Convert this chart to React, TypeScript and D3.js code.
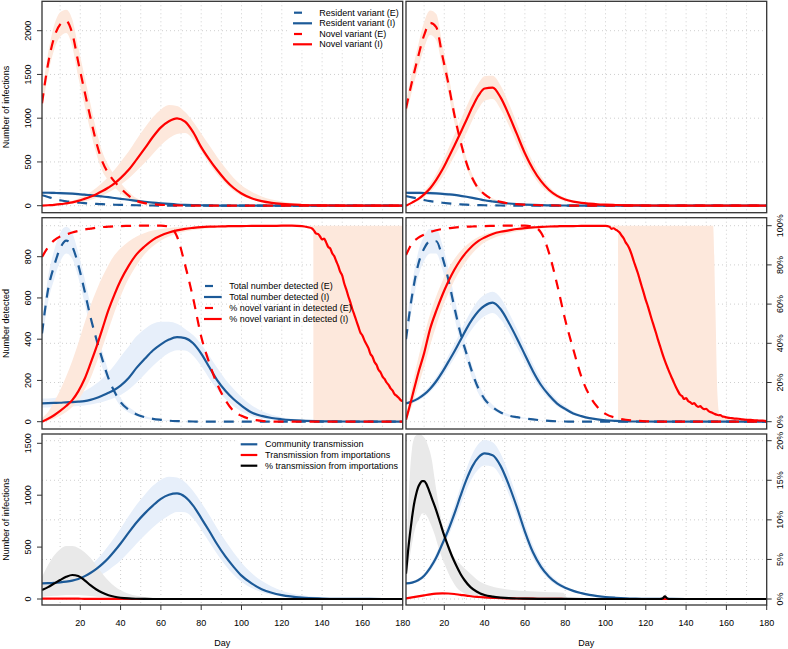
import React from "react";
import * as d3 from "d3";

const FONT = "'Liberation Sans', Arial, Helvetica, sans-serif";
const BLUE = "#1c5a98";
const RED = "#ff0000";
const BLACK = "#000000";
const PEACH = "#fde8dc";
const LBLUE = "#e7effa";
const GRAY = "#e9e9e9";

// ---------- shared day grid ----------
const DAYS = [1, 4, 7, 10, 13, 16, 19, 22, 25, 28, 31, 34, 37, 40, 44, 48, 52, 56, 60, 64, 68, 72, 76, 80, 84, 88, 92, 96, 100, 105, 110, 115, 120, 130, 140, 150, 160, 170, 180];
const X_TICKS = [20, 40, 60, 80, 100, 120, 140, 160, 180];
const X_GRID = [10, 20, 30, 40, 50, 60, 70, 80, 90, 100, 110, 120, 130, 140, 150, 160, 170];
const TOP_TICKS = [0, 500, 1000, 1500, 2000];
const MID_TICKS = [0, 200, 400, 600, 800];
const MID_PCT_TICKS = [0, 20, 40, 60, 80, 100];
const BOT_TICKS = [0, 500, 1000, 1500];
const BOT_PCT_TICKS = [0, 5, 10, 15, 20];

// ---------- top-left ----------
const TL_RE = [120, 100, 80, 62, 50, 42, 36, 30, 25, 21, 17, 14, 11, 9, 7, 5, 3, 2, 1, 1, 0, 0, 0, 0, 0, 0, 0, 0, 0, 0, 0, 0, 0, 0, 0, 0, 0, 0, 0];
const TL_RI = [148, 148, 146, 144, 141, 137, 132, 127, 120, 113, 105, 97, 88, 79, 68, 56, 45, 35, 27, 20, 14, 10, 7, 5, 3, 2, 1, 1, 0, 0, 0, 0, 0, 0, 0, 0, 0, 0, 0];
const TL_RI_HI = [170, 168, 165, 162, 158, 153, 147, 141, 133, 125, 116, 107, 97, 88, 76, 63, 51, 40, 31, 23, 17, 12, 8, 6, 4, 2, 1, 1, 0, 0, 0, 0, 0, 0, 0, 0, 0, 0, 0];
const TL_RI_LO = [128, 128, 127, 126, 124, 121, 117, 112, 106, 100, 93, 86, 78, 70, 60, 49, 39, 30, 23, 17, 12, 8, 6, 4, 2, 1, 0, 0, 0, 0, 0, 0, 0, 0, 0, 0, 0, 0, 0];
const TL_NE = [1170, 1620, 1920, 2070, 2110, 1970, 1640, 1320, 1010, 720, 500, 370, 275, 200, 115, 55, 30, 17, 10, 6, 4, 2, 1, 0, 0, 0, 0, 0, 0, 0, 0, 0, 0, 0, 0, 0, 0, 0, 0];
const TL_NE_HI = [1260, 1740, 2060, 2210, 2240, 2130, 1810, 1490, 1170, 860, 610, 460, 350, 260, 160, 85, 48, 28, 17, 10, 6, 3, 2, 1, 0, 0, 0, 0, 0, 0, 0, 0, 0, 0, 0, 0, 0, 0, 0];
const TL_NE_LO = [1080, 1500, 1780, 1930, 1975, 1820, 1470, 1160, 860, 590, 395, 290, 210, 145, 75, 30, 16, 8, 4, 2, 1, 0, 0, 0, 0, 0, 0, 0, 0, 0, 0, 0, 0, 0, 0, 0, 0, 0, 0];
const TL_NI = [0, 5, 10, 17, 27, 38, 55, 78, 103, 132, 167, 208, 255, 315, 410, 530, 655, 785, 895, 965, 998, 960, 840, 670, 530, 405, 295, 205, 140, 85, 52, 32, 20, 8, 3, 1, 0, 0, 0];
const TL_NI_HI = [0, 8, 15, 25, 40, 58, 82, 115, 155, 205, 265, 335, 410, 500, 620, 760, 890, 1010, 1100, 1150, 1140, 1070, 960, 825, 690, 555, 430, 320, 235, 160, 105, 70, 48, 20, 8, 3, 1, 0, 0];
const TL_NI_LO = [0, 3, 6, 10, 15, 22, 32, 46, 64, 88, 115, 150, 190, 240, 310, 400, 490, 590, 690, 770, 820, 830, 760, 625, 480, 355, 255, 172, 115, 70, 42, 26, 15, 5, 2, 0, 0, 0, 0];

// ---------- top-right ----------
const TR_RE = [110, 95, 80, 65, 52, 42, 34, 27, 21, 16, 12, 9, 7, 5, 3, 2, 1, 1, 0, 0, 0, 0, 0, 0, 0, 0, 0, 0, 0, 0, 0, 0, 0, 0, 0, 0, 0, 0, 0];
const TR_RI = [148, 147, 146, 145, 143, 140, 136, 130, 123, 113, 102, 90, 77, 62, 48, 35, 25, 18, 13, 9, 6, 4, 3, 2, 1, 1, 0, 0, 0, 0, 0, 0, 0, 0, 0, 0, 0, 0, 0];
const TR_RI_HI = [166, 165, 164, 163, 161, 158, 153, 147, 139, 128, 116, 103, 89, 73, 57, 42, 30, 22, 16, 11, 8, 5, 4, 3, 2, 1, 0, 0, 0, 0, 0, 0, 0, 0, 0, 0, 0, 0, 0];
const TR_RI_LO = [130, 129, 128, 127, 125, 122, 119, 113, 107, 98, 88, 77, 65, 51, 39, 28, 20, 14, 10, 7, 4, 3, 2, 1, 0, 0, 0, 0, 0, 0, 0, 0, 0, 0, 0, 0, 0, 0, 0];
const TR_NE = [1110, 1420, 1700, 1950, 2090, 2040, 1720, 1398, 1040, 740, 490, 310, 195, 130, 72, 44, 25, 17, 12, 8, 5, 3, 2, 1, 0, 0, 0, 0, 0, 0, 0, 0, 0, 0, 0, 0, 0, 0, 0];
const TR_NE_HI = [1190, 1530, 1830, 2100, 2230, 2190, 1850, 1510, 1130, 810, 545, 350, 225, 150, 85, 52, 30, 20, 14, 9, 6, 4, 2, 1, 0, 0, 0, 0, 0, 0, 0, 0, 0, 0, 0, 0, 0, 0, 0];
const TR_NE_LO = [1030, 1310, 1570, 1800, 1950, 1890, 1590, 1290, 950, 670, 440, 275, 170, 112, 60, 37, 20, 14, 10, 7, 4, 2, 1, 0, 0, 0, 0, 0, 0, 0, 0, 0, 0, 0, 0, 0, 0, 0, 0];
const TR_NI = [0, 35, 75, 130, 200, 295, 410, 545, 685, 830, 980, 1130, 1260, 1340, 1350, 1235, 1040, 820, 600, 420, 280, 180, 112, 70, 46, 32, 23, 16, 12, 8, 5, 3, 2, 1, 0, 0, 0, 0, 0];
const TR_NI_HI = [0, 45, 95, 165, 250, 365, 500, 650, 810, 970, 1130, 1280, 1400, 1480, 1485, 1370, 1170, 940, 700, 500, 340, 220, 140, 90, 60, 42, 30, 21, 15, 10, 7, 4, 3, 1, 0, 0, 0, 0, 0];
const TR_NI_LO = [0, 25, 55, 100, 155, 230, 325, 440, 565, 695, 830, 980, 1110, 1200, 1220, 1100, 920, 710, 510, 350, 225, 145, 85, 52, 34, 24, 17, 12, 9, 6, 4, 2, 1, 0, 0, 0, 0, 0, 0];

// ---------- middle-left ----------
const ML_TE = [428, 640, 755, 840, 878, 850, 760, 640, 510, 400, 300, 210, 145, 95, 58, 35, 22, 14, 9, 5, 3, 2, 1, 0, 0, 0, 0, 0, 0, 0, 0, 0, 0, 0, 0, 0, 0, 0, 0];
const ML_TE_HI = [470, 700, 830, 915, 945, 915, 820, 700, 570, 450, 340, 245, 170, 115, 72, 45, 28, 18, 11, 7, 4, 2, 1, 0, 0, 0, 0, 0, 0, 0, 0, 0, 0, 0, 0, 0, 0, 0, 0];
const ML_TE_LO = [385, 580, 690, 775, 815, 790, 700, 580, 455, 350, 260, 175, 120, 75, 45, 27, 16, 10, 6, 3, 2, 1, 0, 0, 0, 0, 0, 0, 0, 0, 0, 0, 0, 0, 0, 0, 0, 0, 0];
const ML_TI = [89, 90, 91, 92, 94, 95, 97, 100, 106, 115, 127, 140, 155, 175, 212, 262, 305, 345, 375, 398, 410, 405, 380, 330, 265, 200, 150, 110, 78, 45, 28, 18, 12, 5, 2, 1, 0, 0, 0];
const ML_TI_HI = [112, 113, 115, 118, 122, 128, 135, 148, 165, 185, 210, 240, 275, 315, 365, 415, 450, 475, 485, 485, 475, 450, 420, 375, 320, 260, 205, 160, 120, 80, 52, 34, 22, 10, 4, 2, 1, 0, 0];
const ML_TI_LO = [68, 69, 70, 71, 72, 74, 76, 79, 83, 89, 96, 105, 116, 130, 155, 190, 230, 270, 305, 333, 347, 345, 320, 270, 210, 155, 110, 75, 50, 28, 16, 10, 6, 2, 1, 0, 0, 0, 0];
const ML_PE = [84, 89, 92.5, 94.5, 95.5, 96.5, 97.3, 98, 98.5, 99, 99.3, 99.5, 99.7, 99.8, 99.9, 100, 100, 100, 100, 99.5, 94.5, 80, 63, 43.5, 30, 19, 11, 5.5, 3, 1.2, 0.4, 0.1, 0, 0, 0, 0, 0, 0, 0];
const ML_PI_DAYS = [1, 4, 7, 10, 13, 16, 19, 22, 25, 28, 31, 34, 37, 40, 44, 48, 52, 56, 60, 64, 68, 72, 76, 80, 84, 88, 92, 96, 100, 105, 110, 115, 120, 125, 130, 133].concat(d3.range(135, 181));
const ML_PI = [0, 1.5, 3.3, 5.5, 8, 11, 15.5, 21.5, 29.5, 38, 47.5, 57, 65, 72, 79.5, 85.5, 89.5, 92.8, 95, 96.5, 97.6, 98.4, 98.9, 99.3, 99.5, 99.6, 99.7, 99.8, 99.8, 99.9, 99.9, 99.9, 100, 100, 99.8, 99.2,
  98.6, 97.5, 96, 95.8, 94.5, 93, 93.4, 91.5, 89.2, 88.4, 86, 84.5, 82, 79.5, 76.5, 74.5, 70.5, 67.5, 64, 61, 57.5, 54.5, 51.5, 48.5, 45.5, 44, 41.5, 39.5, 37.5, 34.5, 33.2, 30.5, 29, 26.5, 25.2, 23, 21.8, 20, 18.8, 17, 15.8, 14, 13.2, 12.2, 11, 10.5];
const ML_PB_DAYS = [1, 4, 7, 10, 13, 16, 19, 22, 25, 28, 31, 34, 37, 40, 44, 48, 52, 56, 60, 64, 68, 72, 76, 80, 84, 88, 92, 96, 100, 105, 110, 115, 120, 125, 130, 133, 135.6, 135.9, 140, 150, 160, 170, 180];
const ML_PI_HI = [2, 5, 10, 16, 23, 31, 40, 50, 59, 67, 74, 80, 85, 88.5, 92, 94.5, 96.3, 97.5, 98.3, 98.8, 99.2, 99.4, 99.6, 99.7, 99.8, 99.8, 99.9, 99.9, 99.9, 100, 100, 100, 100, 100, 100, 100, 100, 100, 100, 100, 100, 100, 100];
const ML_PI_LO = [0, 0.5, 1.5, 3, 5, 7.5, 11, 16, 22, 30, 38, 47, 56, 64, 73, 80, 85.5, 89.5, 92.5, 94.5, 96, 97, 97.8, 98.3, 98.7, 99, 99.2, 99.4, 99.5, 99.6, 99.7, 99.7, 99.8, 99.8, 99.5, 99, 98, 0, 0, 0, 0, 0, 0];

// ---------- middle-right ----------
const MR_TE = [400, 610, 760, 840, 875, 875, 800, 690, 555, 430, 330, 235, 160, 110, 70, 45, 30, 22, 16, 11, 7, 4, 2, 1, 0, 0, 0, 0, 0, 0, 0, 0, 0, 0, 0, 0, 0, 0, 0];
const MR_TE_HI = [450, 670, 820, 900, 935, 935, 860, 745, 605, 475, 365, 265, 185, 128, 82, 53, 36, 26, 19, 13, 8, 5, 3, 1, 0, 0, 0, 0, 0, 0, 0, 0, 0, 0, 0, 0, 0, 0, 0];
const MR_TE_LO = [355, 550, 700, 780, 815, 815, 740, 635, 505, 385, 295, 205, 135, 92, 58, 37, 24, 18, 13, 9, 6, 3, 1, 0, 0, 0, 0, 0, 0, 0, 0, 0, 0, 0, 0, 0, 0, 0, 0];
const MR_TI = [89, 98, 112, 132, 160, 196, 240, 290, 340, 395, 450, 498, 537, 562, 577, 545, 480, 405, 325, 245, 178, 128, 88, 62, 40, 27, 17, 11, 7, 4, 2, 1, 1, 0, 0, 0, 0, 0, 0];
const MR_TI_HI = [95, 106, 122, 145, 177, 217, 265, 320, 375, 435, 495, 548, 590, 615, 630, 600, 530, 450, 365, 280, 207, 150, 105, 75, 50, 34, 22, 14, 9, 5, 3, 2, 1, 0, 0, 0, 0, 0, 0];
const MR_TI_LO = [83, 90, 102, 120, 145, 177, 216, 262, 308, 358, 408, 452, 488, 512, 527, 495, 435, 362, 290, 215, 155, 110, 75, 52, 33, 22, 14, 9, 6, 3, 2, 1, 0, 0, 0, 0, 0, 0, 0];
const MR_PE = [85, 91, 93.8, 95.5, 96.8, 97.7, 98.3, 98.7, 99, 99.3, 99.5, 99.6, 99.7, 99.8, 99.9, 100, 100, 100, 100, 99.5, 96.5, 86, 70, 52, 37, 23, 13.5, 7.5, 4, 2, 1, 0.5, 0.2, 0, 0, 0, 0, 0, 0];
const MR_PI_DAYS = [1, 4, 7, 10, 13, 16, 19, 22, 25, 28, 31, 34, 37, 40, 44, 48, 52, 56, 60, 64, 68, 72, 76, 80, 84, 88, 92, 96, 100].concat(d3.range(102, 161), [162, 164, 166, 168, 170, 172, 174, 176, 178, 180]);
const MR_PI = [1, 12.5, 24.5, 35, 47.5, 56.5, 64.5, 71.5, 77.5, 82.5, 86.5, 89.8, 92.3, 94, 95.8, 96.9, 97.6, 98.3, 98.8, 99.1, 99.4, 99.6, 99.7, 99.8, 99.8, 99.9, 99.9, 99.9, 99.9,
  99.5, 98.4, 98.7, 98, 97.4, 96.5, 95, 93.6, 91.5, 90, 88, 85.2, 82, 79, 76, 72.5, 69, 65.6, 62, 59, 55.5, 52, 48.8, 45.5, 42, 38.8, 35.5, 32.4, 29.6, 27, 24.5, 22.2, 19.8, 17.6, 15.6, 13.8, 13.1, 11.6, 12, 10.6, 10, 9.1, 9.5, 8.3, 7.6, 7.9, 7, 6.4, 6.6, 5.6, 4.9, 4.6, 4, 3.6, 3.3, 3.4, 2.7, 2.5, 2.2,
  1.9, 1.6, 1.5, 1.2, 1.0, 0.9, 0.7, 0.6, 0.5, 0.35];
const MR_PB_DAYS = [1, 4, 7, 10, 13, 16, 19, 22, 25, 28, 31, 34, 37, 40, 44, 48, 52, 56, 60, 64, 68, 72, 76, 80, 84, 88, 92, 96, 100, 104, 106.2, 106.4, 120, 140, 153.4, 154.5, 155.5, 156.5, 160, 170, 180];
const MR_PI_HI = [3, 18, 32, 44, 55, 64, 71.5, 78, 83, 87, 90, 92.5, 94.3, 95.7, 96.8, 97.6, 98.2, 98.7, 99, 99.3, 99.5, 99.7, 99.8, 99.9, 100, 100, 100, 100, 100, 100, 100, 100, 100, 100, 100, 60, 15, 4, 2.4, 1, 0.4];
const MR_PI_LO = [0.5, 8, 18, 28, 39, 49, 58, 65.5, 72, 77.5, 82, 86, 89, 91.5, 93.5, 95, 96.2, 97.1, 97.8, 98.3, 98.7, 99, 99.2, 99.4, 99.5, 99.6, 99.7, 99.7, 99.7, 99, 97.5, 0, 0, 0, 0, 0, 0, 0, 0, 0, 0];

// ---------- bottom-left ----------
const BL_CT = [150, 152, 155, 160, 167, 177, 193, 218, 250, 290, 338, 395, 462, 535, 640, 740, 825, 900, 965, 1005, 1018, 985, 900, 780, 655, 525, 410, 312, 225, 150, 95, 60, 37, 13, 5, 2, 1, 0, 0];
const BL_CT_HI = [165, 170, 175, 185, 198, 215, 240, 275, 320, 375, 440, 515, 595, 680, 800, 910, 1005, 1090, 1150, 1178, 1170, 1125, 1040, 930, 810, 680, 560, 450, 350, 250, 175, 120, 80, 35, 14, 6, 2, 1, 0];
const BL_CT_LO = [135, 136, 138, 141, 145, 151, 160, 173, 190, 213, 242, 278, 322, 372, 450, 535, 615, 690, 755, 805, 838, 835, 775, 670, 550, 430, 325, 235, 165, 105, 65, 40, 25, 8, 3, 1, 0, 0, 0];
const BL_TI = [3, 3, 3, 3, 3, 3, 3, 2, 2, 2, 1, 1, 1, 1, 0, 0, 0, 0, 0, 0, 0, 0, 0, 0, 0, 0, 0, 0, 0, 0, 0, 0, 0, 0, 0, 0, 0, 0, 0];
const BL_PCT = [1.14, 1.5, 1.95, 2.4, 2.8, 3.03, 2.9, 2.4, 1.75, 1.2, 0.78, 0.48, 0.28, 0.16, 0.07, 0.03, 0.01, 0, 0, 0, 0, 0, 0, 0, 0, 0, 0, 0, 0, 0, 0, 0, 0, 0, 0, 0, 0, 0, 0];
const BL_PCT_HI = [2.8, 4.3, 5.5, 6.3, 6.7, 6.7, 6.45, 5.95, 5.2, 4.2, 3.2, 2.3, 1.6, 1.1, 0.65, 0.4, 0.25, 0.15, 0.08, 0.03, 0, 0, 0, 0, 0, 0, 0, 0, 0, 0, 0, 0, 0, 0, 0, 0, 0, 0, 0];
const BL_PCT_LO = [0.3, 0.35, 0.4, 0.45, 0.5, 0.5, 0.5, 0.45, 0.38, 0.3, 0.22, 0.15, 0.1, 0.06, 0.03, 0.01, 0, 0, 0, 0, 0, 0, 0, 0, 0, 0, 0, 0, 0, 0, 0, 0, 0, 0, 0, 0, 0, 0, 0];

// ---------- bottom-right ----------
const BR_CT = [150, 158, 180, 225, 300, 400, 530, 665, 820, 990, 1150, 1280, 1365, 1402, 1385, 1280, 1100, 885, 650, 450, 310, 215, 150, 108, 78, 57, 40, 28, 19, 12, 7, 4, 2, 1, 0, 0, 0, 0, 0];
const BR_CT_HI = [160, 170, 195, 245, 330, 440, 580, 730, 900, 1080, 1255, 1400, 1495, 1532, 1510, 1400, 1210, 980, 730, 515, 360, 250, 175, 126, 92, 67, 48, 34, 23, 15, 9, 5, 3, 1, 0, 0, 0, 0, 0];
const BR_CT_LO = [140, 146, 165, 205, 272, 362, 480, 605, 745, 900, 1050, 1170, 1250, 1285, 1275, 1180, 1010, 800, 580, 395, 270, 185, 128, 92, 66, 48, 33, 23, 15, 10, 6, 3, 2, 0, 0, 0, 0, 0, 0];
const BR_TI = [6, 15, 25, 35, 45, 52, 55, 53, 48, 40, 33, 24, 19, 15, 11, 8, 6, 5, 4, 3, 2, 1, 1, 0, 0, 0, 0, 0, 0, 0, 0, 0, 0, 0, 0, 0, 0, 0, 0];
const BR_PCT_DAYS = [1, 2, 3, 4, 5, 6, 7, 8, 9, 10, 11, 12, 13, 14, 16, 18, 20, 22, 24, 26, 28, 30, 33, 36, 40, 44, 48, 52, 56, 60, 70, 80, 90, 100, 110, 120, 127, 128.5, 129.5, 130.5, 131.5, 133, 140, 150, 160, 170, 180];
const BR_PCT = [3.2, 6, 8.3, 10.3, 12, 13.2, 14.1, 14.6, 14.9, 14.9, 14.6, 14, 13.3, 12.6, 11.2, 9.6, 8, 6.6, 5.3, 4.2, 3.2, 2.4, 1.5, 0.95, 0.5, 0.3, 0.18, 0.1, 0.06, 0.04, 0.02, 0.01, 0, 0, 0, 0, 0, 0.1, 0.35, 0.1, 0, 0, 0, 0, 0, 0, 0];
const BR_PB_DAYS = [1, 2, 3, 4, 5, 6, 7, 8, 9, 10, 11, 12, 13, 14, 15, 16, 17, 18, 19, 20, 22, 24, 26, 28, 30, 33, 36, 40, 45, 50, 55, 60, 65, 70, 75, 79, 80, 81, 82, 90, 180];
const BR_PCT_HI = [5, 11, 16, 19, 20.3, 20.7, 20.8, 20.8, 20.7, 20.4, 20, 19.3, 18.5, 17.3, 15.5, 13.8, 12.2, 10.7, 9.5, 8.5, 6.9, 5.7, 4.9, 4.4, 3.9, 3.2, 2.5, 1.9, 1.5, 1.25, 1.1, 1.0, 0.95, 0.9, 0.85, 0.8, 0.5, 0.1, 0, 0, 0];
const BR_PCT_LO = [2.5, 4, 5.5, 7, 8.3, 9.3, 9.9, 10.4, 10.8, 10.8, 10.6, 10.2, 9.6, 9, 8.3, 7.5, 6.6, 5.8, 5.1, 4.5, 3.3, 2.3, 1.5, 1.0, 0.7, 0.4, 0.25, 0.12, 0.05, 0, 0, 0, 0, 0, 0, 0, 0, 0, 0, 0, 0];

// ---------- legends ----------
const LEG_TOP = [
  { label: "Resident variant (E)", color: BLUE, dash: true },
  { label: "Resident variant (I)", color: BLUE, dash: false },
  { label: "Novel variant (E)", color: RED, dash: true },
  { label: "Novel variant (I)", color: RED, dash: false },
];
const LEG_MID = [
  { label: "Total number detected (E)", color: BLUE, dash: true },
  { label: "Total number detected (I)", color: BLUE, dash: false },
  { label: "% novel variant in detected (E)", color: RED, dash: true },
  { label: "% novel variant in detected (I)", color: RED, dash: false },
];
const LEG_BOT = [
  { label: "Community transmission", color: BLUE, dash: false },
  { label: "Transmission from importations", color: RED, dash: false },
  { label: "% transmission from importations", color: BLACK, dash: false },
];

// ---------- layout ----------
const COLS: [number, number][] = [[42, 402.7], [406, 766.7]];
type Row = { y0: number; y1: number; ld: number[]; lr: number[]; pd?: number[]; pr?: number[]; gridTicks: number[]; gridPct: boolean };
const ROWS: Row[] = [
  { y0: 1.3, y1: 212.7, ld: [0, 2000], lr: [205.7, 30.7], gridTicks: TOP_TICKS, gridPct: false },
  { y0: 217.7, y1: 429, ld: [0, 800], lr: [421.7, 256.7], pd: [0, 100], pr: [421.7, 225.7], gridTicks: MID_PCT_TICKS, gridPct: true },
  { y0: 434, y1: 605, ld: [0, 1500], lr: [599, 443.3], pd: [0, 20], pr: [599, 440.7], gridTicks: BOT_PCT_TICKS, gridPct: true },
];

type Series = { d: number[]; v: number[]; c: string; dash?: boolean; p?: boolean; lo?: number[]; hi?: number[]; bd?: number[]; band?: string };

const PANELS: { c: number; r: number; s: Series[] }[] = [
  { c: 0, r: 0, s: [
    { d: DAYS, v: TL_RE, c: BLUE, dash: true },
    { d: DAYS, v: TL_RI, c: BLUE, lo: TL_RI_LO, hi: TL_RI_HI, band: LBLUE },
    { d: DAYS, v: TL_NE, c: RED, dash: true, lo: TL_NE_LO, hi: TL_NE_HI, band: PEACH },
    { d: DAYS, v: TL_NI, c: RED, lo: TL_NI_LO, hi: TL_NI_HI, band: PEACH },
  ] },
  { c: 1, r: 0, s: [
    { d: DAYS, v: TR_RE, c: BLUE, dash: true },
    { d: DAYS, v: TR_RI, c: BLUE, lo: TR_RI_LO, hi: TR_RI_HI, band: LBLUE },
    { d: DAYS, v: TR_NE, c: RED, dash: true, lo: TR_NE_LO, hi: TR_NE_HI, band: PEACH },
    { d: DAYS, v: TR_NI, c: RED, lo: TR_NI_LO, hi: TR_NI_HI, band: PEACH },
  ] },
  { c: 0, r: 1, s: [
    { d: DAYS, v: ML_TE, c: BLUE, dash: true, lo: ML_TE_LO, hi: ML_TE_HI, band: LBLUE },
    { d: DAYS, v: ML_TI, c: BLUE, lo: ML_TI_LO, hi: ML_TI_HI, band: LBLUE },
    { d: DAYS, v: ML_PE, c: RED, dash: true, p: true },
    { d: ML_PI_DAYS, v: ML_PI, c: RED, p: true, bd: ML_PB_DAYS, lo: ML_PI_LO, hi: ML_PI_HI, band: PEACH },
  ] },
  { c: 1, r: 1, s: [
    { d: DAYS, v: MR_TE, c: BLUE, dash: true, lo: MR_TE_LO, hi: MR_TE_HI, band: LBLUE },
    { d: DAYS, v: MR_TI, c: BLUE, lo: MR_TI_LO, hi: MR_TI_HI, band: LBLUE },
    { d: DAYS, v: MR_PE, c: RED, dash: true, p: true },
    { d: MR_PI_DAYS, v: MR_PI, c: RED, p: true, bd: MR_PB_DAYS, lo: MR_PI_LO, hi: MR_PI_HI, band: PEACH },
  ] },
  { c: 0, r: 2, s: [
    { d: DAYS, v: BL_CT, c: BLUE, lo: BL_CT_LO, hi: BL_CT_HI, band: LBLUE },
    { d: DAYS, v: BL_TI, c: RED },
    { d: DAYS, v: BL_PCT, c: BLACK, p: true, lo: BL_PCT_LO, hi: BL_PCT_HI, band: GRAY },
  ] },
  { c: 1, r: 2, s: [
    { d: DAYS, v: BR_CT, c: BLUE, lo: BR_CT_LO, hi: BR_CT_HI, band: LBLUE },
    { d: DAYS, v: BR_TI, c: RED },
    { d: BR_PCT_DAYS, v: BR_PCT, c: BLACK, p: true, bd: BR_PB_DAYS, lo: BR_PCT_LO, hi: BR_PCT_HI, band: GRAY },
  ] },
];

const LW = 2.2;
const DASH = "10,8";
const FRAME = "#333";
const GRIDC = "#cfcfcf";
const FS = 9;

function Panel({ c, r, s }: { c: number; r: number; s: Series[] }) {
  const [x0, x1] = COLS[c];
  const row = ROWS[r];
  const x = d3.scaleLinear().domain([1, 180]).range([x0, x1]);
  const yL = d3.scaleLinear().domain(row.ld).range(row.lr);
  const yP = row.pd ? d3.scaleLinear().domain(row.pd).range(row.pr as number[]) : yL;
  const id = `clip-${c}-${r}`;
  const gy = row.gridPct ? yP : yL;
  const lineGen = (ys: d3.ScaleLinear<number, number>) =>
    d3.line<[number, number]>().x((p) => x(p[0])).y((p) => ys(p[1])).curve(d3.curveMonotoneX);
  const areaGen = (ys: d3.ScaleLinear<number, number>) =>
    d3.area<[number, number, number]>().x((p) => x(p[0])).y0((p) => ys(p[1])).y1((p) => ys(p[2])).curve(d3.curveMonotoneX);
  return (
    <g>
      <defs>
        <clipPath id={id}>
          <rect x={x0} y={row.y0} width={x1 - x0} height={row.y1 - row.y0} />
        </clipPath>
      </defs>
      <g clipPath={`url(#${id})`}>
        {X_GRID.map((d) => (
          <line key={"gx" + d} x1={x(d)} x2={x(d)} y1={row.y0} y2={row.y1} stroke={GRIDC} strokeWidth={1} strokeDasharray="1,3" />
        ))}
        {row.gridTicks.map((t) => (
          <line key={"gy" + t} x1={x0} x2={x1} y1={gy(t)} y2={gy(t)} stroke={GRIDC} strokeWidth={1} strokeDasharray="1,3" />
        ))}
        {s.map((se, i) => {
          if (!se.lo || !se.hi) return null;
          const ys = se.p ? yP : yL;
          const bd = se.bd || se.d;
          const pts: [number, number, number][] = bd.map((d, k) => [d, se.lo![k], se.hi![k]]);
          return <path key={"b" + i} d={areaGen(ys)(pts) || ""} fill={se.band} stroke="none" />;
        })}
        {s.map((se, i) => {
          const ys = se.p ? yP : yL;
          const pts: [number, number][] = se.d.map((d, k) => [d, se.v[k]]);
          return (
            <path key={"l" + i} d={lineGen(ys)(pts) || ""} fill="none" stroke={se.c} strokeWidth={LW}
              strokeDasharray={se.dash ? DASH : undefined} strokeLinejoin="round" />
          );
        })}
      </g>
    </g>
  );
}

function Frame({ c, r }: { c: number; r: number }) {
  const [x0, x1] = COLS[c];
  const row = ROWS[r];
  return <rect x={x0} y={row.y0} width={x1 - x0} height={row.y1 - row.y0} fill="none" stroke={FRAME} strokeWidth={1.3} />;
}

function Legend({ items, lx0, lx1, dx0, dx1, tx, ys, bg }: { items: { label: string; color: string; dash: boolean }[]; lx0: number; lx1: number; dx0: number; dx1: number; tx: number; ys: number[]; bg?: number[] }) {
  return (
    <g>
      {bg && <rect x={bg[0]} y={bg[1]} width={bg[2] - bg[0]} height={bg[3] - bg[1]} fill="#fff" />}
      {items.map((it, i) => (
        <g key={i}>
          <line x1={it.dash ? dx0 : lx0} x2={it.dash ? dx1 : lx1} y1={ys[i]} y2={ys[i]} stroke={it.color} strokeWidth={LW} />
          <text x={tx} y={ys[i]} dy="0.35em" fontSize={FS} fill="#000">{it.label}</text>
        </g>
      ))}
    </g>
  );
}

function RotText({ x, y, children, fs = FS }: { x: number; y: number; children: React.ReactNode; fs?: number }) {
  return (
    <text transform={`translate(${x},${y}) rotate(-90)`} textAnchor="middle" dy="0.35em" fontSize={fs} fill="#000">
      {children}
    </text>
  );
}

export default function App() {
  const leftTickX = COLS[0][0];
  const rightTickX = COLS[1][1];
  return (
    <svg width={788} height={649} style={{ position: "absolute", left: 0, top: 0, display: "block" }} fontFamily={FONT}>
      <rect x={0} y={0} width={788} height={649} fill="#fff" />
      {PANELS.map((p) => (
        <Panel key={`${p.c}-${p.r}`} c={p.c} r={p.r} s={p.s} />
      ))}

      <Legend items={LEG_TOP} lx0={293} lx1={312} dx0={294} dx1={302} tx={319.3} ys={[12.7, 23.3, 34, 44.3]} bg={[290, 1.3, 402.7, 50]} />
      <Legend items={LEG_MID} lx0={204} lx1={221.7} dx0={205} dx1={213} tx={229.3} ys={[286, 297, 308, 319]} />
      <Legend items={LEG_BOT} lx0={240.7} lx1={257.3} dx0={240.7} dx1={257.3} tx={265} ys={[444.3, 455, 465.7]} bg={[236, 434, 402.7, 472]} />

      {PANELS.map((p) => (
        <Frame key={`f${p.c}-${p.r}`} c={p.c} r={p.r} />
      ))}

      {/* left axes */}
      {[
        { r: 0, ticks: TOP_TICKS },
        { r: 1, ticks: MID_TICKS },
        { r: 2, ticks: BOT_TICKS },
      ].map(({ r, ticks }) => {
        const row = ROWS[r];
        const y = d3.scaleLinear().domain(row.ld).range(row.lr);
        return (
          <g key={"la" + r}>
            {ticks.map((t) => (
              <g key={t}>
                <line x1={leftTickX - 5} x2={leftTickX} y1={y(t)} y2={y(t)} stroke={FRAME} strokeWidth={1} />
                <RotText x={27.5} y={y(t)}>{t}</RotText>
              </g>
            ))}
          </g>
        );
      })}
      <RotText x={6} y={107}>Number of infections</RotText>
      <RotText x={6} y={323.4}>Number detected</RotText>
      <RotText x={6} y={519.5}>Number of infections</RotText>

      {/* right axes */}
      {[
        { r: 1, ticks: MID_PCT_TICKS },
        { r: 2, ticks: BOT_PCT_TICKS },
      ].map(({ r, ticks }) => {
        const row = ROWS[r];
        const y = d3.scaleLinear().domain(row.pd as number[]).range(row.pr as number[]);
        return (
          <g key={"ra" + r}>
            {ticks.map((t) => (
              <g key={t}>
                <line x1={rightTickX} x2={rightTickX + 5} y1={y(t)} y2={y(t)} stroke={FRAME} strokeWidth={1} />
                <RotText x={780.3} y={y(t)}>{`${t}%`}</RotText>
              </g>
            ))}
          </g>
        );
      })}

      {/* bottom axes */}
      {COLS.map(([a, b], ci) => {
        const x = d3.scaleLinear().domain([1, 180]).range([a, b]);
        const yb = ROWS[2].y1;
        return (
          <g key={"xa" + ci}>
            {X_TICKS.map((t) => (
              <g key={t}>
                <line x1={x(t)} x2={x(t)} y1={yb} y2={yb + 5} stroke={FRAME} strokeWidth={1} />
                <text x={x(t)} y={622.5} dy="0.35em" textAnchor="middle" fontSize={FS} fill="#000">{t}</text>
              </g>
            ))}
            <text x={(a + b) / 2} y={642.7} dy="0.35em" textAnchor="middle" fontSize={FS} fill="#000">Day</text>
          </g>
        );
      })}
    </svg>
  );
}
